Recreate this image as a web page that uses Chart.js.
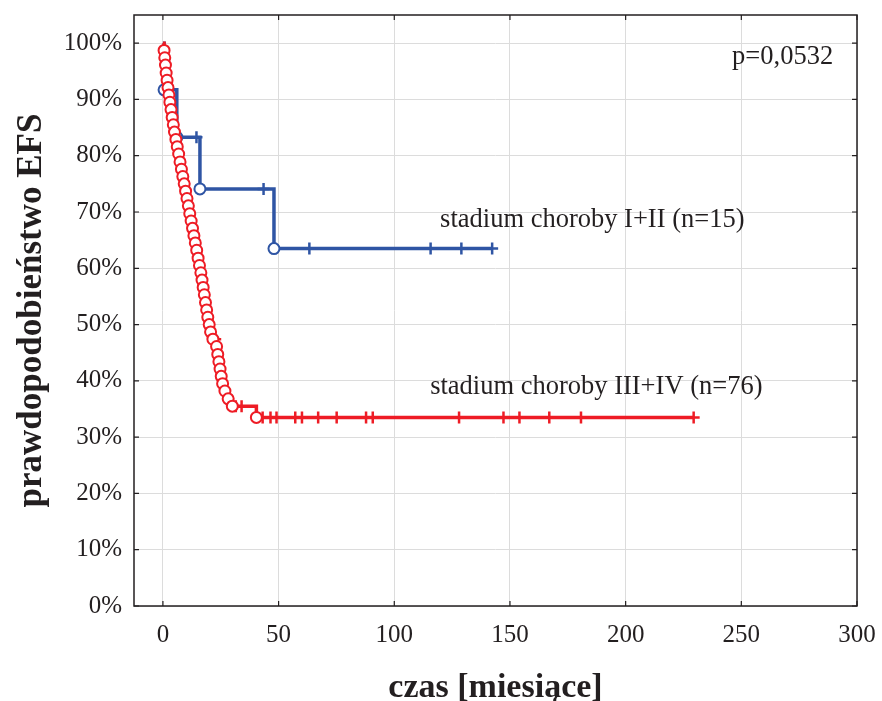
<!DOCTYPE html>
<html lang="pl">
<head>
<meta charset="utf-8">
<title>EFS</title>
<script src="https://cdn.jsdelivr.net/npm/chart.js@4.4.1/dist/chart.umd.min.js"></script>
<style>
  html, body { margin: 0; padding: 0; background: #fff; }
  canvas { display: block; }
</style>
</head>
<body>
<canvas id="wykres" width="882" height="701"></canvas>
<script>
// stadium choroby I+II: zdarzenia (czas, EFS %) i obserwacje ucięte
const blueEventT = [0.5, 6, 16, 48];
const blueEventS = [91.7, 83.3, 74.1, 63.5];
const blueCensT = [14.5, 43.5, 63.3, 115.7, 129, 142.3];
const blueCensS = [83.3, 74.1, 63.5, 63.5, 63.5, 63.5];

// stadium choroby III+IV
const redEventT = [0.5, 0.8, 1.1, 1.4, 1.8, 2.2, 2.6, 3.0,
  3.5, 4.0, 4.5, 5.0, 5.6, 6.2, 6.8,
  7.4, 8.0, 8.6, 9.2, 9.8, 10.4, 11.0, 11.6,
  12.2, 12.8, 13.4, 14.0, 14.6, 15.2, 15.8,
  16.4, 16.9, 17.4, 17.9, 18.4, 18.9, 19.4, 20.0,
  20.6, 21.6, 23.2, 23.7, 24.2, 24.7, 25.2,
  25.8, 26.8, 28.2, 30.0, 40.4];
const redEventS = [98.7, 97.4, 96.1, 94.7, 93.4, 92.1, 90.8, 89.5,
  88.2, 86.8, 85.5, 84.2, 82.9, 81.6, 80.3,
  78.9, 77.6, 76.3, 75.0, 73.7, 72.4, 71.1, 69.7,
  68.4, 67.1, 65.8, 64.5, 63.2, 61.8, 60.5,
  59.2, 57.9, 56.6, 55.3, 53.9, 52.6, 51.3, 50.0,
  48.7, 47.4, 46.1, 44.7, 43.4, 42.1, 40.8,
  39.5, 38.2, 36.8, 35.5, 33.5];
const redCensT = [22.6, 31.5, 34.0, 43.1, 46.5, 49.1, 57.2, 60.1, 67.1, 75.1,
  87.8, 90.7, 128, 147.2, 154.1, 167, 180.7, 229.4];
const redCensS = [47.4, 35.5, 35.5, 33.5, 33.5, 33.5, 33.5, 33.5, 33.5, 33.5,
  33.5, 33.5, 33.5, 33.5, 33.5, 33.5, 33.5, 33.5];

const xTicks = [0, 50, 100, 150, 200, 250, 300];
const yTicks = [0, 10, 20, 30, 40, 50, 60, 70, 80, 90, 100];

const pValue = 'p=0,0532';
const blueName = 'stadium choroby I+II (n=15)';
const redName = 'stadium choroby III+IV (n=76)';

const BLUE = '#2f55a4';
const RED = '#ee1c25';
const INK = '#231f20';
const SERIF = '"Liberation Serif", "Times New Roman", serif';

function toPoints(ts, ss) {
    return ts.map((t, i) => ({ x: t, y: ss[i] }));
}

// krzywa schodkowa od 100% do ostatniej obserwacji
function stepCurve(ts, ss, endT) {
    const pts = [{ x: 0, y: 100 }].concat(toPoints(ts, ss));
    pts.push({ x: endT, y: ss[ss.length - 1] });
    return pts;
}

function curveSet(data, color) {
    return { data, borderColor: color, borderWidth: 3.5, stepped: true, pointRadius: 0, fill: false };
}

function markerSet(data, color, style) {
    const circle = style === 'circle';
    return {
        data,
        showLine: false,
        pointStyle: style,
        pointRadius: circle ? 5.5 : 6,
        pointBorderWidth: circle ? 2 : 2.5,
        pointBorderColor: color,
        pointBackgroundColor: circle ? '#fff' : color
    };
}

// ramka z kreskami podziałki do środka i opisy krzywych
const ramka = {
    id: 'ramka',
    afterDatasetsDraw(chart) {
        const { ctx, chartArea: a, scales } = chart;
        const x = scales.x, y = scales.y;
        ctx.save();
        ctx.strokeStyle = INK;
        ctx.lineWidth = 1.5;
        ctx.strokeRect(a.left, a.top, a.right - a.left, a.bottom - a.top);
        ctx.lineWidth = 1.2;
        ctx.beginPath();
        xTicks.forEach(v => {
            const px = x.getPixelForValue(v);
            ctx.moveTo(px, a.bottom); ctx.lineTo(px, a.bottom - 5);
            ctx.moveTo(px, a.top); ctx.lineTo(px, a.top + 5);
        });
        yTicks.forEach(v => {
            const py = y.getPixelForValue(v);
            ctx.moveTo(a.left, py); ctx.lineTo(a.left + 5, py);
            ctx.moveTo(a.right, py); ctx.lineTo(a.right - 5, py);
        });
        ctx.stroke();

        ctx.fillStyle = INK;
        ctx.font = '26.5px ' + SERIF;
        ctx.textBaseline = 'middle';
        ctx.fillText(pValue, x.getPixelForValue(246), y.getPixelForValue(97.5));
        ctx.fillText(blueName, x.getPixelForValue(119.8), y.getPixelForValue(68.5));
        ctx.fillText(redName, x.getPixelForValue(115.5), y.getPixelForValue(38.9));
        ctx.restore();
    }
};

// odstęp etykiet od osi zrobiony niewidoczną kreską podziałki,
// żeby nie powiększał marginesów wykresu
const hiddenTicks = len => ({ color: '#dcdcdc', lineWidth: 1, drawTicks: true, tickLength: len, tickColor: 'rgba(0,0,0,0)' });

new Chart(document.getElementById('wykres').getContext('2d'), {
    type: 'line',
    data: {
        datasets: [
            markerSet(toPoints(redEventT, redEventS), RED, 'circle'),
            markerSet(toPoints(redCensT, redCensS), RED, 'cross'),
            curveSet(stepCurve(redEventT, redEventS, redCensT[redCensT.length - 1]), RED),
            markerSet(toPoints(blueEventT, blueEventS), BLUE, 'circle'),
            markerSet(toPoints(blueCensT, blueCensS), BLUE, 'cross'),
            curveSet(stepCurve(blueEventT, blueEventS, blueCensT[blueCensT.length - 1]), BLUE)
        ]
    },
    options: {
        responsive: false,
        animation: false,
        devicePixelRatio: 1,
        layout: { padding: { top: 15, right: 25, bottom: 0, left: 0 } },
        plugins: { legend: { display: false }, tooltip: { enabled: false } },
        scales: {
            x: {
                type: 'linear',
                min: -12.5,
                max: 300,
                afterBuildTicks: s => { s.ticks = xTicks.map(v => ({ value: v })); },
                afterFit: s => { s.height = 95; },
                grid: hiddenTicks(14),
                border: { display: false },
                ticks: { color: INK, padding: 0, font: { family: SERIF, size: 25 } },
                title: {
                    display: true,
                    text: 'czas [miesiące]',
                    color: INK,
                    font: { family: SERIF, size: 34, weight: 'bold', lineHeight: 1 },
                    padding: { top: 0, bottom: -4 }
                }
            },
            y: {
                min: 0,
                max: 105,
                afterBuildTicks: s => { s.ticks = yTicks.map(v => ({ value: v })); },
                afterFit: s => { s.width = 134; },
                grid: hiddenTicks(12),
                border: { display: false },
                ticks: { color: INK, padding: 0, font: { family: SERIF, size: 25 }, callback: v => v + '%' },
                title: {
                    display: true,
                    text: 'prawdopodobieństwo EFS',
                    color: INK,
                    font: { family: SERIF, size: 35, weight: 'bold', lineHeight: 1 },
                    padding: { top: 14, bottom: 0 }
                }
            }
        }
    },
    plugins: [ramka]
});
</script>
</body>
</html>
